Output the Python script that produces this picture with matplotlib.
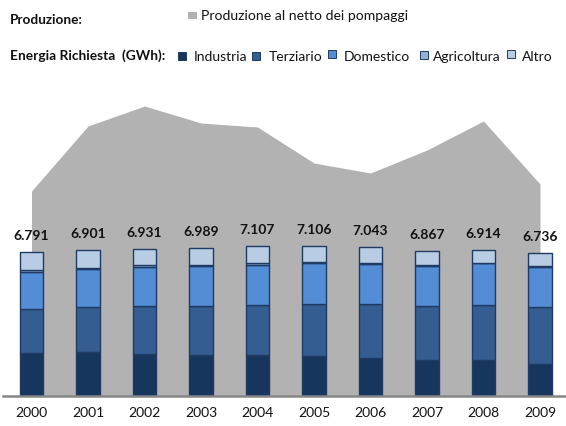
import matplotlib
matplotlib.use("Agg")
import matplotlib.pyplot as plt
from matplotlib.patches import Rectangle
import numpy as np

years = ["2000", "2001", "2002", "2003", "2004", "2005", "2006", "2007", "2008", "2009"]
industria = [2014, 2062, 1967, 1905, 1905, 1872, 1777, 1668, 1682, 1493]
terziario = [2085, 2118, 2275, 2336, 2398, 2479, 2573, 2573, 2621, 2701]
domestico = [1768, 1829, 1834, 1882, 1896, 1915, 1905, 1882, 1953, 1882]
agricoltura = [80, 47, 95, 47, 80, 62, 30, 47, 30, 76]
altro = [844, 845, 760, 819, 828, 778, 758, 697, 628, 584]
totali = [6791, 6901, 6931, 6989, 7107, 7106, 7043, 6867, 6914, 6736]
produzione = [9692, 12773, 13720, 12915, 12725, 11019, 10545, 11635, 13009, 10024]

series = [
    ("Industria", industria, "#17365D"),
    ("Terziario", terziario, "#345E91"),
    ("Domestico", domestico, "#538DD5"),
    ("Agricoltura", agricoltura, "#95B3D7"),
    ("Altro", altro, "#B8CCE4"),
]
edge = "#1F3A63"
grey_area = "#B2B2B2"

FONT = "Lato"
W, H = 566, 426
fig = plt.figure(figsize=(W / 100, H / 100), dpi=100)

def fx(px):
    return px / W

def fy(py):
    return 1 - py / H

base_px = 395.5
ymax = 15000
kpx = 0.0211
ax = fig.add_axes([fx(3.25), fy(base_px), 565 / W, ymax * kpx / H])
x = np.arange(len(years))

ax.fill_between(x, 0, produzione, color=grey_area, lw=0, zorder=1)

bottom = np.zeros(len(years))
for name, vals, col in series:
    ax.bar(x, vals, width=0.41, bottom=bottom, color=col, edgecolor=edge,
           linewidth=1.0, zorder=3)
    bottom += np.array(vals)

for xi, t in zip(x, totali):
    lab = f"{t:,}".replace(",", ".")
    ax.annotate(lab, (xi, t), xytext=(0, 11.5), textcoords="offset points",
                ha="center", va="center", fontsize=10, fontweight="bold",
                family=FONT, color="#111111", zorder=5)

ax.set_xlim(-0.5, 9.5)
ax.set_ylim(0, ymax)
for s in ["top", "right", "left"]:
    ax.spines[s].set_visible(False)
ax.spines["bottom"].set_color("#868686")
ax.spines["bottom"].set_linewidth(1.8)
ax.spines["bottom"].set_zorder(6)
ax.set_yticks([])
ax.set_xticks(x)
ax.set_xticklabels(years, family=FONT, fontsize=10, color="#111111")
ax.tick_params(axis="x", length=0, pad=8)
ax.patch.set_alpha(0)

# Legend / header
fig.text(fx(10), fy(20), "Produzione:", family=FONT, fontweight="bold",
         fontsize=9.8, va="center", ha="left", color="#111111")
fig.patches.append(Rectangle((fx(188), fy(19)), 9 / W, 6.5 / H,
                             transform=fig.transFigure, color=grey_area,
                             lw=0))
fig.text(fx(201), fy(16), "Produzione al netto dei pompaggi", family=FONT,
         fontsize=10.1, va="center", ha="left", color="#111111")

fig.text(fx(10), fy(56), "Energia Richiesta  (GWh):", family=FONT,
         fontweight="bold", fontsize=9.9, va="center", ha="left",
         color="#111111")
sq_x = [178, 252, 328, 420, 507]
tx_x = [194, 269, 344, 433, 522]
sq_y = [60, 60, 58, 59, 58]
for (name, vals, col), sx, tx, syy in zip(series, sq_x, tx_x, sq_y):
    fig.patches.append(Rectangle((fx(sx), fy(syy)), 8 / W, 8 / H,
                                 transform=fig.transFigure, facecolor=col,
                                 edgecolor=edge, lw=0.7))
    fig.text(fx(tx), fy(57), name, family=FONT, fontsize=10, va="center",
             ha="left", color="#111111")

fig.savefig("out.png", dpi=100)
